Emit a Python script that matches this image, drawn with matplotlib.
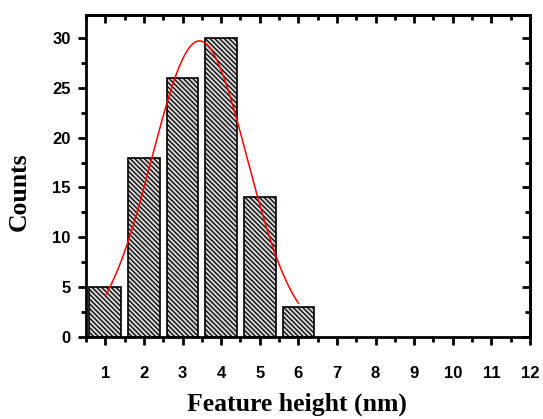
import numpy as np
import matplotlib
matplotlib.use("Agg")
import matplotlib.pyplot as plt
from matplotlib.ticker import MultipleLocator

# Data
heights = [1, 2, 3, 4, 5, 6]
counts = [5, 18, 26, 30, 14, 3]
xticks = list(range(1, 13))
yticks = [0, 5, 10, 15, 20, 25, 30]
# Gaussian fit parameters (amplitude, centre, sigma) and fitted range
fit_A, fit_xc, fit_sigma = 29.7, 3.44, 1.23
fit_range = (1.0, 6.0)

plt.rcParams['hatch.linewidth'] = 0.9
fig = plt.figure(figsize=(5.43, 4.19), dpi=100)
ax = fig.add_axes([86/543, 82/419, 444/543, 322/419])

ax.bar(heights, counts, width=0.82, facecolor='#d0d0d0', edgecolor='black',
       hatch='\\\\\\\\\\\\\\', linewidth=1.2, zorder=2)

xf = np.linspace(fit_range[0], fit_range[1], 300)
yf = fit_A * np.exp(-(xf - fit_xc) ** 2 / (2 * fit_sigma ** 2))
ax.plot(xf, yf, color='red', lw=1.1, zorder=3)

ax.set_xlim(0.5, 12)
ax.set_ylim(0, 32.3)
ax.set_xticks(xticks)
ax.set_yticks(yticks)
ax.xaxis.set_minor_locator(MultipleLocator(0.5))
ax.yaxis.set_minor_locator(MultipleLocator(2.5))

tickfont = dict(family='Liberation Sans', weight='bold', size=12)
ax.set_xticklabels([str(t) for t in xticks], **tickfont)
ax.set_yticklabels([str(t) for t in yticks], **tickfont)

for s in ax.spines.values():
    s.set_linewidth(2)

ax.tick_params(axis='both', which='major', direction='out', length=6, width=2,
               top=False, right=False)
ax.tick_params(axis='both', which='minor', direction='out', length=3.5, width=2,
               top=False, right=False)
ax.tick_params(axis='x', pad=15)
ax.tick_params(axis='y', pad=5)

# inward ticks on top and right
axt = ax.secondary_xaxis('top')
axt.set_xticks(xticks)
axt.xaxis.set_minor_locator(MultipleLocator(0.5))
axt.tick_params(which='major', direction='in', length=6, width=2, labeltop=False)
axt.tick_params(which='minor', direction='in', length=3.5, width=2)
axr = ax.secondary_yaxis('right')
axr.set_yticks(yticks)
axr.yaxis.set_minor_locator(MultipleLocator(2.5))
axr.tick_params(which='major', direction='in', length=6, width=2, labelright=False)
axr.tick_params(which='minor', direction='in', length=3.5, width=2)
for sa in (axt, axr):
    for s in sa.spines.values():
        s.set_linewidth(2)

labfont = dict(family='Liberation Serif', weight='bold', size=18.5)
ax.set_xlabel('Feature height (nm)', **labfont)
ax.set_ylabel('Counts', **labfont)
ax.xaxis.set_label_coords(0.475, -0.172)
ax.yaxis.set_label_coords(-0.124, 0.45)

fig.savefig('out.png', dpi=100)
